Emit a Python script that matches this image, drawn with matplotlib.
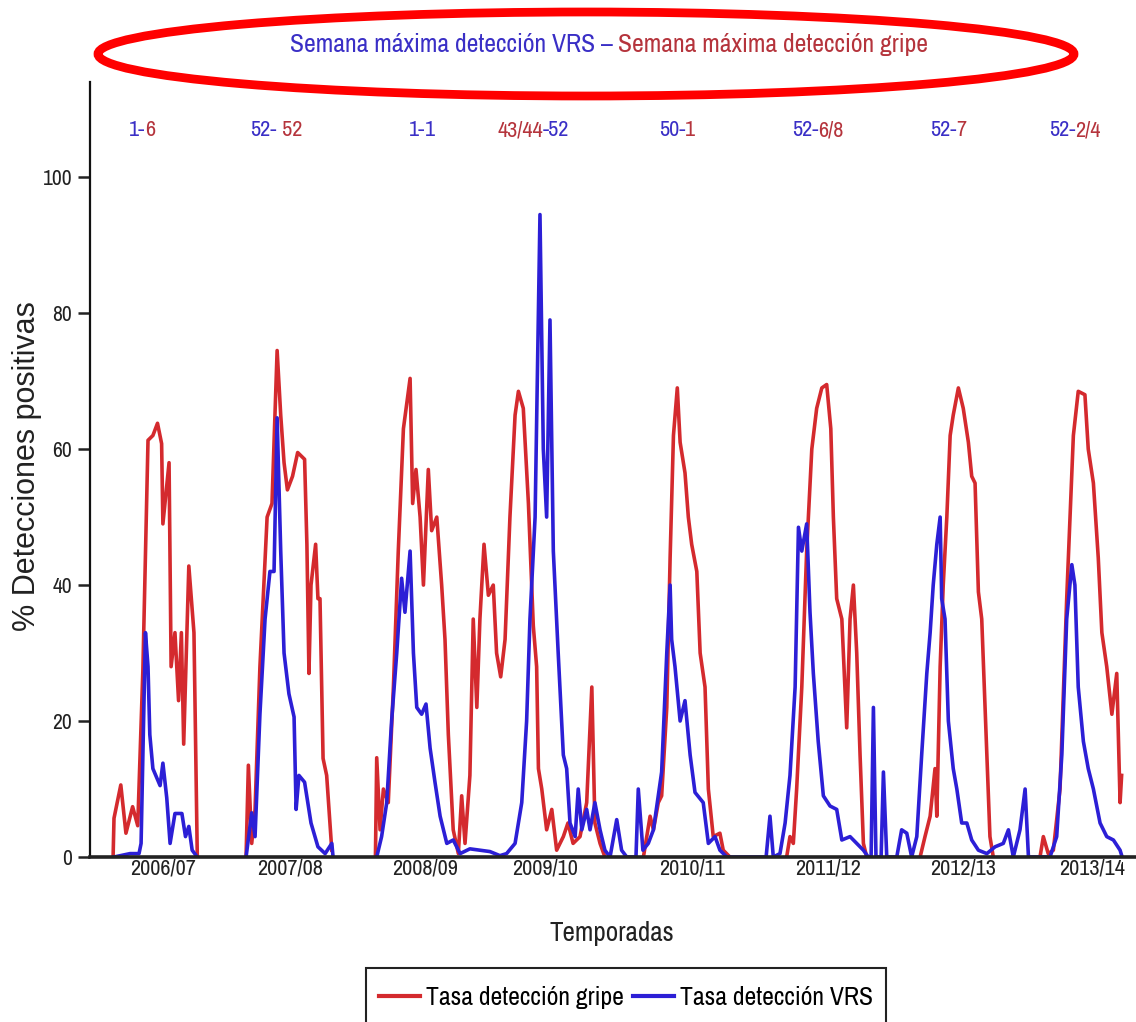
import matplotlib
matplotlib.use("Agg")
import numpy as np
import matplotlib.pyplot as plt
from matplotlib.patches import Ellipse, Rectangle
from matplotlib.lines import Line2D
from matplotlib.offsetbox import TextArea, HPacker, AnnotationBbox

# ---------------------------------------------------------------------------
# Datos: semana (contada desde el inicio del eje, ~agosto 2006) y % positivas
# ---------------------------------------------------------------------------
# Tasa de detección de gripe, un tramo por temporada
gripe_semana = [
    [9.0, 9.35, 12.0, 14.0, 16.6, 18.6, 20.6, 22.6, 24.5, 26.3, 27.9, 28.4, 30.8, 31.6,
     33.1, 34.5, 35.6, 36.5, 38.5, 40.5, 41.8],
    [60.8, 61.7, 63.0, 64.3, 66.2, 69.0, 70.9, 72.9, 74.3, 75.6, 76.9, 78.9, 80.9, 83.6,
     84.5, 85.3, 86.1, 87.9, 88.8, 89.6, 90.8, 92.2, 94.2],
    [111.2, 111.7, 113.0, 114.3, 116.2, 118.2, 120.1, 122.1, 124.7, 125.7, 127.0, 128.6,
     129.9, 131.8, 133.1, 135.1, 137.0, 138.3, 139.6, 141.5, 143.5, 144.8, 146.1, 148.0,
     149.3, 150.7, 151.9, 153.5, 155.2, 157.1, 158.4, 160.0, 161.7, 163.6, 165.6, 166.9,
     168.8, 170.8, 172.7, 174.0, 174.7, 176.0, 177.9, 179.9, 181.8, 184.4, 186.2, 188.2,
     190.9, 193.5, 195.5, 196.7, 198.7, 200.6],
    [215.6, 218.2, 219.5, 221.4, 222.7, 224.7, 226.0, 227.3, 228.8, 229.9, 231.8, 233.1,
     234.4, 236.4, 237.7, 239.6, 240.9, 242.8, 245.4, 246.7, 249.3],
    [271.4, 272.7, 274.0, 275.3, 277.3, 279.2, 281.2, 283.1, 285.1, 287.0, 288.6, 289.6,
     290.9, 292.9, 294.8, 296.1, 297.4, 298.7, 300.0, 301.3, 302.6],
    [323.4, 325.3, 327.3, 329.2, 329.9, 331.2, 332.4, 333.8, 335.1, 336.3, 338.3, 340.2,
     342.2, 343.5, 344.8, 346.1, 347.4, 349.4, 350.6, 351.9],
    [370.1, 371.4, 373.3, 375.3, 377.9, 380.5, 383.1, 385.0, 387.6, 388.9, 390.9, 392.8,
     394.2, 396.1, 398.1, 400.0, 401.3, 401.9],
]
gripe_tasa = [
    [0, 5.7, 10.6, 3.5, 7.4, 4.6, 27.5, 61.3, 62, 63.8, 60.8, 49, 58, 28, 33, 23, 33,
     16.6, 42.8, 33, 0],
    [0, 13.5, 2, 7, 28, 50, 52, 74.5, 65, 58, 54, 56, 59.5, 58.5, 46, 27, 40, 46, 38, 38,
     14.5, 12, 1],
    [0, 14.6, 4, 10, 8, 25, 45, 63, 70.4, 52, 57, 50, 40, 57, 48, 50, 40, 32, 18, 4, 0.5,
     9, 2, 12, 35, 22, 35, 46, 38.5, 40, 30, 26.5, 32, 50, 65, 68.5, 66, 52, 34, 28, 13,
     10, 4, 7, 1, 3, 5, 2, 3, 8, 25, 5, 2, 0],
    [0, 6, 4, 8, 9, 22, 44, 62, 69, 61, 56.5, 50, 46, 42, 30, 25, 10, 3, 3.5, 1, 0],
    [0, 3, 2, 10, 25, 45, 60, 66, 69, 69.5, 63, 50, 38, 35, 19, 35, 40, 30, 15, 2, 0],
    [0, 3, 6, 13, 6, 28, 40, 50, 62, 65, 69, 66, 61, 56, 55, 39, 35, 15, 3, 0],
    [0, 3, 0.5, 1, 10, 38, 62, 68.5, 68, 60, 55, 44, 33, 28, 21, 27, 8, 12],
]

# Tasa de detección de VRS
vrs_semana = [
    [9.35, 15.6, 19.1, 19.9, 20.6, 21.6, 22.6, 23.3, 24.5, 27.3, 28.4, 29.9, 31.2, 33.1,
     35.8, 37.2, 38.5, 39.8, 41.8],
    [60.8, 63.0, 64.3, 66.2, 68.2, 70.1, 71.7, 72.9, 74.3, 75.6, 77.5, 79.5, 80.3, 81.4,
     83.6, 86.1, 88.8, 91.6, 94.2, 94.7],
    [111.7, 113.6, 115.6, 117.5, 119.5, 121.4, 122.7, 124.7, 126.0, 127.3,
     129.2, 130.9, 132.5, 134.4, 136.4, 139.0, 141.5, 144.2, 148.0, 151.9,
     155.8, 159.7, 162.3, 165.6, 168.2, 170.1, 171.4, 173.4, 175.3, 176.6,
     177.9, 179.2, 180.5, 182.4, 184.4, 185.7, 187.0, 189.0, 190.2, 191.6,
     193.5, 194.8, 196.7, 198.7, 200.6, 202.6, 205.2, 207.1, 209.1, 212.7,
     213.6, 215.4, 217.5, 219.5, 221.4, 222.7, 224.7, 226.0, 226.6, 227.9,
     229.9, 231.8, 233.8, 235.7, 238.9, 240.9, 243.5, 245.4, 248.1, 263.4,
     264.9, 266.2, 268.8, 270.8, 272.7, 274.7, 276.0, 277.3, 279.2, 280.5,
     281.8, 283.7, 285.7, 288.3, 290.9, 292.9, 296.1, 298.7, 301.3, 303.2,
     304.3, 305.2, 306.2, 308.2, 309.1, 310.4, 314.3, 316.2, 318.2, 320.1,
     322.1, 324.0, 326.0, 327.3, 328.5, 329.9, 331.2, 331.8, 333.1, 334.4,
     336.3, 337.7, 339.6, 341.6, 343.5, 346.1, 349.4, 352.6, 355.8, 357.8,
     359.7, 362.3, 364.3, 365.6, 374.0, 376.6, 378.6, 380.5, 382.5, 383.7,
     385.0, 387.0, 388.9, 390.9, 393.5, 396.1, 398.7, 401.3, 402.1],
]
vrs_tasa = [
    [0, 0.5, 0.5, 2, 15, 33, 28, 18, 13, 10.5, 13.8, 8.7, 2, 6.4, 6.4, 3, 4.5, 1, 0],
    [0, 6.5, 3, 21, 35, 42, 42, 64.6, 45, 30, 24, 20.6, 7, 12, 11, 5, 1.5, 0.5, 2, 0],
    [0, 3, 8, 20, 30, 41, 36, 45, 30, 22,
     21, 22.5, 16, 11, 6, 2, 2.5, 0.5, 1.2, 1,
     0.8, 0.2, 0.5, 2, 8, 20, 35, 50, 94.5, 60,
     50, 79, 45, 30, 15, 13, 5, 3, 10, 4,
     7, 4, 8, 4, 1, 0, 5.5, 1, 0, 0,
     10, 1, 2, 4, 9, 12.5, 30, 40, 32, 28,
     20, 23, 15, 9.5, 8, 2, 3, 1, 0, 0,
     6, 0, 0.5, 5, 12, 25, 48.5, 45, 49, 36,
     27, 17, 9, 7.5, 7, 2.5, 3, 2, 1, 0,
     0, 22, 0, 0, 12.5, 0, 0, 4, 3.5, 0,
     3, 15, 27, 33, 40, 46, 50, 38, 35, 20,
     13, 10, 5, 5, 2.5, 1, 0.5, 1.5, 2, 4,
     0, 4, 10, 0, 0, 3, 15, 35, 43, 40,
     25, 17, 13, 10, 5, 3, 2.5, 1, 0],
]

# Temporadas (etiquetas del eje x) y su semana central
temporadas = ["2006/07", "2007/08", "2008/09", "2009/10",
              "2010/11", "2011/12", "2012/13", "2013/14"]
temporada_semana = [28.4, 77.9, 130.5, 177.3, 234.5, 287.5, 340.1, 390.4]

# Semana de máxima detección: parte VRS y parte gripe de cada rótulo
pico_partes = [
    [("1-", "vrs"), ("6", "gripe")],
    [("52-", "vrs"), (" 52", "gripe")],
    [("1-", "vrs"), ("1", "vrs")],
    [("43/44", "gripe"), ("-52", "vrs")],
    [("50-", "vrs"), ("1", "gripe")],
    [("52-", "vrs"), ("6/8", "gripe")],
    [("52-", "vrs"), ("7", "gripe")],
    [("52-", "vrs"), ("2/4", "gripe")],
]
pico_semana = [20.3, 72.5, 129.3, 172.6, 228.7, 283.6, 334.3, 383.7]

y_ticks = [0, 20, 40, 60, 80, 100]

# ---------------------------------------------------------------------------
NARROW = ["Archivo Narrow", "PT Sans Narrow", "DejaVu Sans"]
C_GRIPE = "#d42a2e"
C_VRS = "#2c1fd6"
T_GRIPE = "#b5343c"
T_VRS = "#3a2fc6"

W, H = 1136, 1022
fig = plt.figure(figsize=(W / 100, H / 100), dpi=100)
ax = fig.add_axes([90 / W, 1 - 857 / H, 1 - 90 / W, (857 - 82) / H])

for xs, ys in zip(gripe_semana, gripe_tasa):
    ax.plot(xs, ys, color=C_GRIPE, lw=2.6, solid_joinstyle="round")
for xs, ys in zip(vrs_semana, vrs_tasa):
    ax.plot(xs, ys, color=C_VRS, lw=2.6, solid_joinstyle="round")

ax.set_xlim(0, 407.5)
ax.set_ylim(0, 114)
for s in ("top", "right"):
    ax.spines[s].set_visible(False)
ax.spines["left"].set_linewidth(1.6)
ax.spines["bottom"].set_linewidth(2.6)
ax.spines["left"].set_color("#111111")
ax.spines["bottom"].set_color("#222222")

ax.set_yticks(y_ticks)
ax.set_yticklabels([str(v) for v in y_ticks], family=NARROW, fontsize=15.5,
                   color="#222222")
ax.tick_params(axis="y", length=8.6, width=1.8, pad=4.3, colors="#222222")
ax.set_xticks(temporada_semana)
ax.set_xticklabels(temporadas, family=NARROW, fontsize=16, color="#222222")
ax.tick_params(axis="x", length=0, pad=1)

ax.set_xlabel("Temporadas", family=NARROW, fontsize=19.5, color="#222222")
ax.xaxis.set_label_coords(0.499, -0.082)
ax.set_ylabel("% Detecciones positivas", family=["Liberation Sans", "DejaVu Sans"],
              fontsize=22, color="#222222")
ax.yaxis.set_label_coords(-0.046, 0.505)


def rotulo(partes, xy, xycoords, size):
    cajas = [TextArea(t, textprops=dict(color=T_VRS if k == "vrs" else T_GRIPE,
                                        family=NARROW, fontsize=size))
             for t, k in partes]
    paq = HPacker(children=cajas, sep=0, pad=0, align="baseline")
    ab = AnnotationBbox(paq, xy, xycoords=xycoords, frameon=False,
                        box_alignment=(0.5, 0.5), pad=0)
    ax.add_artist(ab)


for partes, sx in zip(pico_partes, pico_semana):
    rotulo(partes, (sx, (857 - 130) / 775), ("data", "axes fraction"), 16)

rotulo([("Semana máxima detección VRS ", "vrs"), ("– ", "vrs"),
        ("Semana máxima detección gripe", "gripe")],
       (609 / W, 1 - 45 / H), "figure fraction", 18.5)

fig.add_artist(Ellipse((586 / W, 1 - 54 / H), 976 / W, 84 / H,
                       transform=fig.transFigure, fill=False,
                       edgecolor="#ff0000", linewidth=6.3))

# Leyenda: contenido centrado y marco que continúa por debajo del borde
handles = [Line2D([], [], color=C_GRIPE, lw=3),
           Line2D([], [], color=C_VRS, lw=3)]
leg = fig.legend(handles, ["Tasa detección gripe", "Tasa detección VRS"],
                 loc="center", bbox_to_anchor=(626 / W, 1 - 997 / H),
                 ncol=2, frameon=False,
                 prop=dict(family=NARROW, size=18.5), handlelength=1.6,
                 handletextpad=0.25, columnspacing=0.35, borderpad=0.0,
                 borderaxespad=0)
fig.add_artist(Rectangle((366 / W, 1 - 1040 / H), 520 / W, 72 / H,
                         transform=fig.transFigure, fill=False,
                         edgecolor="#222222", linewidth=1.5))

fig.savefig("out.png", dpi=100)
